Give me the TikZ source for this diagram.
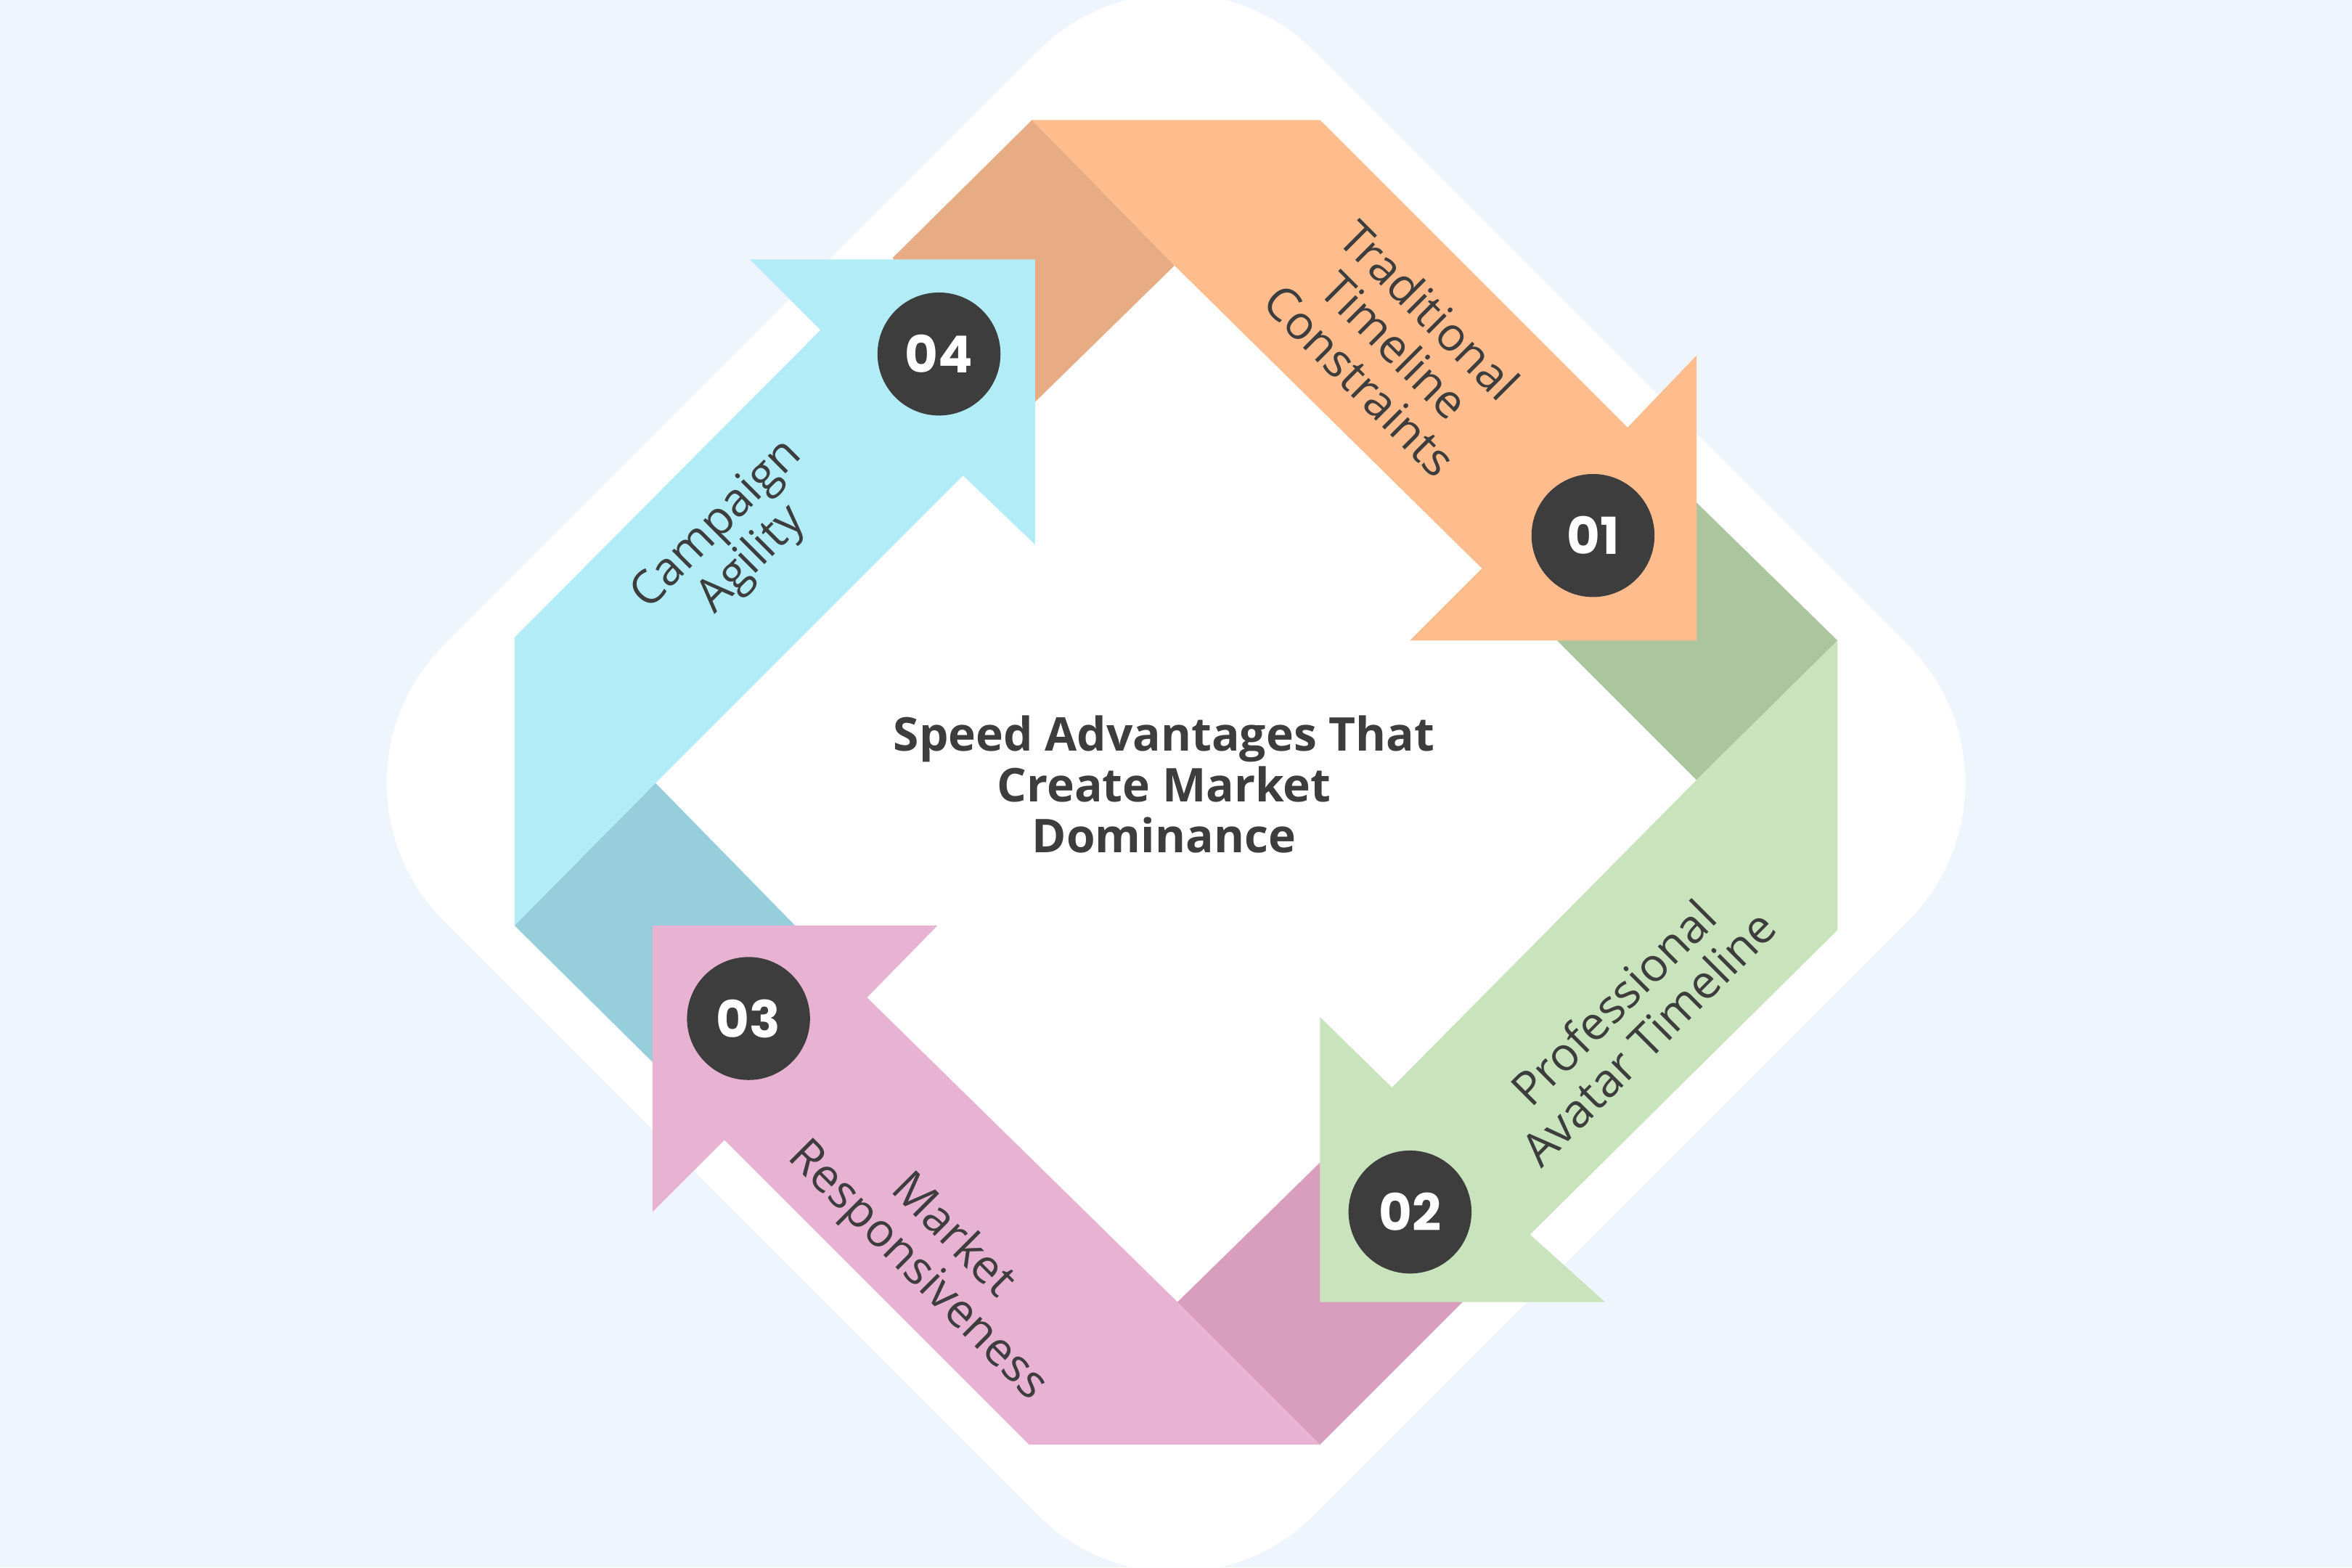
\documentclass[tikz,border=0pt]{standalone}
\usepackage{fontspec}
\setmainfont{Open Sans}
\newfontfamily\numfont{Poppins}
\definecolor{bg}{HTML}{EFF5FD}
\definecolor{ink}{HTML}{3D3D3D}
\definecolor{orA}{HTML}{FFBC8C}\definecolor{orB}{HTML}{E8AC84}
\definecolor{grA}{HTML}{C9E4BC}\definecolor{grB}{HTML}{ABC69E}
\definecolor{pkA}{HTML}{E8B2D3}\definecolor{pkB}{HTML}{D99DBE}
\definecolor{cyA}{HTML}{B2ECF7}\definecolor{cyB}{HTML}{96CFDB}
\tikzset{numdot/.style={circle,fill=ink,minimum size=82pt,inner sep=0,text=white,font=\numfont\fontsize{34}{34}\selectfont\bfseries},
lbl/.style={text=ink,align=center,font=\fontsize{31}{33}\selectfont},
ttl/.style={text=ink,align=center,font=\fontsize{31}{34}\selectfont\bfseries}}
\begin{document}
\begin{tikzpicture}[x=1pt,y=-1pt]
\fill[bg] (0,0) rectangle (1568,1045);
\useasboundingbox (0,0) rectangle (1568,1045);
\fill[white,rounded corners=130pt] (784,-58) -- (1364,522) -- (784,1102) -- (204,522) -- cycle;
% folds
\fill[orB] (595,172) -- (688,80) -- (783,177) -- (690,268) -- cycle;
\fill[grB] (1131,335) -- (1225,427) -- (1131,520) -- (1038,427) -- cycle;
\fill[pkB] (785,868) -- (880,775) -- (975,868) -- (880,963) -- cycle;
\fill[cyB] (343,617) -- (437,522) -- (530,617) -- (437,710) -- cycle;
% arrows
\fill[orA] (688,80) -- (880,80) -- (1085,285) -- (1131,237) -- (1131,427) -- (940,427) -- (988,379) -- (783,177) -- cycle;
\fill[grA] (1225,427) -- (1225,620) -- (1020,823) -- (1070,868) -- (880,868) -- (880,678) -- (928,725) -- (1131,520) -- cycle;
\fill[pkA] (880,963) -- (686,963) -- (483,760) -- (435,808) -- (435,617) -- (625,617) -- (578,665) -- (785,868) -- cycle;
\fill[cyA] (343,617) -- (343,425) -- (547,220) -- (500,173) -- (690,173) -- (690,363) -- (642,317) -- (437,522) -- cycle;
% numbers
\node[numdot] (n4) at (626,236) {04};
\node[numdot] (n1) at (1062,357) {01};
\node[numdot] (n2) at (940,808) {02};
\node[numdot] (n3) at (499,679) {03};
% labels
\node[lbl,rotate=-45] (l1) at (930,230) {Traditional\\Timeline\\Constraints};
\node[lbl,rotate=45] (l2) at (1087,680) {Professional\\Avatar Timeline};
\node[lbl,rotate=-45] (l3) at (623,836) {Market\\Responsiveness};
\node[lbl,rotate=45] (l4) at (490,362) {Campaign\\Agility};
\node[ttl] (t) at (776,523) {Speed Advantages That\\Create Market\\Dominance};
\end{tikzpicture}
\end{document}
